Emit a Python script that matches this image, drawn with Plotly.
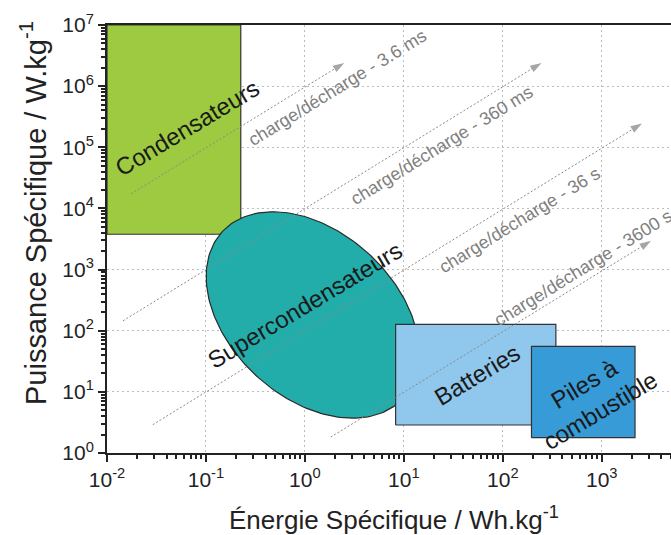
import numpy as np
import plotly.graph_objects as go

# ---------------- data ----------------
x_tick_vals = [1e-2, 1e-1, 1e0, 1e1, 1e2, 1e3]
x_tick_text = ["10<sup>-2</sup>", "10<sup>-1</sup>", "10<sup>0</sup>", "10<sup>1</sup>",
               "10<sup>2</sup>", "10<sup>3</sup>"]
y_tick_vals = [1e0, 1e1, 1e2, 1e3, 1e4, 1e5, 1e6, 1e7]
y_tick_text = ["10<sup>0</sup>", "10<sup>1</sup>", "10<sup>2</sup>", "10<sup>3</sup>",
               "10<sup>4</sup>", "10<sup>5</sup>", "10<sup>6</sup>", "10<sup>7</sup>"]

# rectangles: energy (Wh/kg) and power (W/kg) extents
cond_E = [0.01, 0.225]
cond_P = [3780, 1e7]
batt_E = [8.26, 344]
batt_P = [2.87, 127]
fuel_E = [195, 2170]
fuel_P = [1.78, 55.6]

# supercapacitor ellipse (centre and half-axes, in decades)
ell_center_E = 1.2
ell_center_P = 181
ell_axis_u = (0.916, -1.359)
ell_axis_v = (-0.566, -1.001)

# constant time lines
arrow_labels = ["charge/décharge - 3.6 ms", "charge/décharge - 360 ms",
                "charge/décharge - 36 s", "charge/décharge - 3600 s"]
arrow_E_start = [0.0175, 0.0145, 0.029, 1.82]
arrow_P_start = [17300, 145, 2.9, 1.82]
arrow_E_end = [2.5, 246, 2550, 3150]
arrow_P_end = [2.4e6, 2.4e6, 2.45e5, 2950]

region_names = ["Condensateurs", "Supercondensateurs", "Batteries", "Piles à<br>combustible"]

x_title = "Énergie Spécifique / Wh.kg<sup>-1</sup>"
y_title = "Puissance Spécifique / W.kg<sup>-1</sup>"

FONT = "Liberation Sans, Arial"

# ---------------- figure ----------------
fig = go.Figure()

def rect(E, P, color):
    fig.add_trace(go.Scatter(
        x=[E[0], E[1], E[1], E[0], E[0]],
        y=[P[0], P[0], P[1], P[1], P[0]],
        mode="lines", fill="toself", fillcolor=color,
        line=dict(color="#333333", width=1.2), hoverinfo="skip", showlegend=False))

rect(cond_E, cond_P, "#9dca40")

t = np.linspace(0, 2 * np.pi, 200)
lx = np.log10(ell_center_E) + np.cos(t) * ell_axis_u[0] + np.sin(t) * ell_axis_v[0]
ly = np.log10(ell_center_P) + np.cos(t) * ell_axis_u[1] + np.sin(t) * ell_axis_v[1]
fig.add_trace(go.Scatter(x=10 ** lx, y=10 ** ly, mode="lines", fill="toself",
                         fillcolor="#22adaa", line=dict(color="#2a2a2a", width=1.2),
                         hoverinfo="skip", showlegend=False))

rect(batt_E, batt_P, "#90c7ec")
rect(fuel_E, fuel_P, "#369bd6")

for i in range(len(arrow_labels)):
    fig.add_trace(go.Scatter(
        x=[arrow_E_start[i], arrow_E_end[i]], y=[arrow_P_start[i], arrow_P_end[i]],
        mode="lines+markers",
        line=dict(color="#8a8a8a", width=1, dash="2px,2px"),
        marker=dict(symbol="arrow", size=[0, 12], angleref="previous", color="#808080",
                    line=dict(width=0)),
        hoverinfo="skip", showlegend=False))

# labels of the time lines (positions in log10 units)
arrow_label_pos = [(0.325, 5.97), (1.39, 5.03), (2.172, 3.81), (2.813, 3.018)]
for lab, (px, py) in zip(arrow_labels, arrow_label_pos):
    fig.add_annotation(x=px, y=py, text=lab, showarrow=False, textangle=-31.6,
                       font=dict(family=FONT, size=18, color="#808080"))

region_pos = [(-1.184, 5.316), (-0.008, 2.42), (1.748, 1.276), (2.904, 0.916)]
for lab, (px, py) in zip(region_names, region_pos):
    fig.add_annotation(x=px, y=py, text=lab, showarrow=False, textangle=-31,
                       font=dict(family=FONT, size=24, color="#1a1a1a"))

# axis titles
fig.add_annotation(xref="paper", yref="paper", x=0.508, y=-0.152, text=x_title,
                   showarrow=False, xanchor="center", yanchor="middle",
                   font=dict(family=FONT, size=26, color="#222222"))
fig.add_annotation(xref="paper", yref="paper", x=-0.13, y=0.56, text=y_title,
                   showarrow=False, textangle=-90, xanchor="center", yanchor="middle",
                   font=dict(family=FONT, size=29, color="#222222"))

axis_common = dict(
    type="log", showline=True, linecolor="#222222", linewidth=2,
    ticks="outside", ticklen=7, tickwidth=2, tickcolor="#222222",
    tickfont=dict(family=FONT, size=21, color="#222222"),
    showgrid=True, gridcolor="#bdbdbd", gridwidth=1, griddash="2px,3px",
    zeroline=False, automargin=False,
    minor=dict(dtick="D1", ticks="outside", ticklen=4, tickwidth=1.5,
               tickcolor="#222222", showgrid=False),
)

fig.update_xaxes(**axis_common, range=[-2, 3.70], mirror=True,
                 tickmode="array", tickvals=x_tick_vals, ticktext=x_tick_text)
fig.update_yaxes(**axis_common, range=[0, 7], mirror=False,
                 tickmode="array", tickvals=y_tick_vals, ticktext=y_tick_text)

fig.update_layout(width=671, height=535, margin=dict(l=107, r=0, t=25, b=82),
                  plot_bgcolor="white", paper_bgcolor="white")

fig.write_html("out.html", config={"displayModeBar": False},
               post_script="document.body.style.margin='0';document.body.style.overflow='hidden';")
